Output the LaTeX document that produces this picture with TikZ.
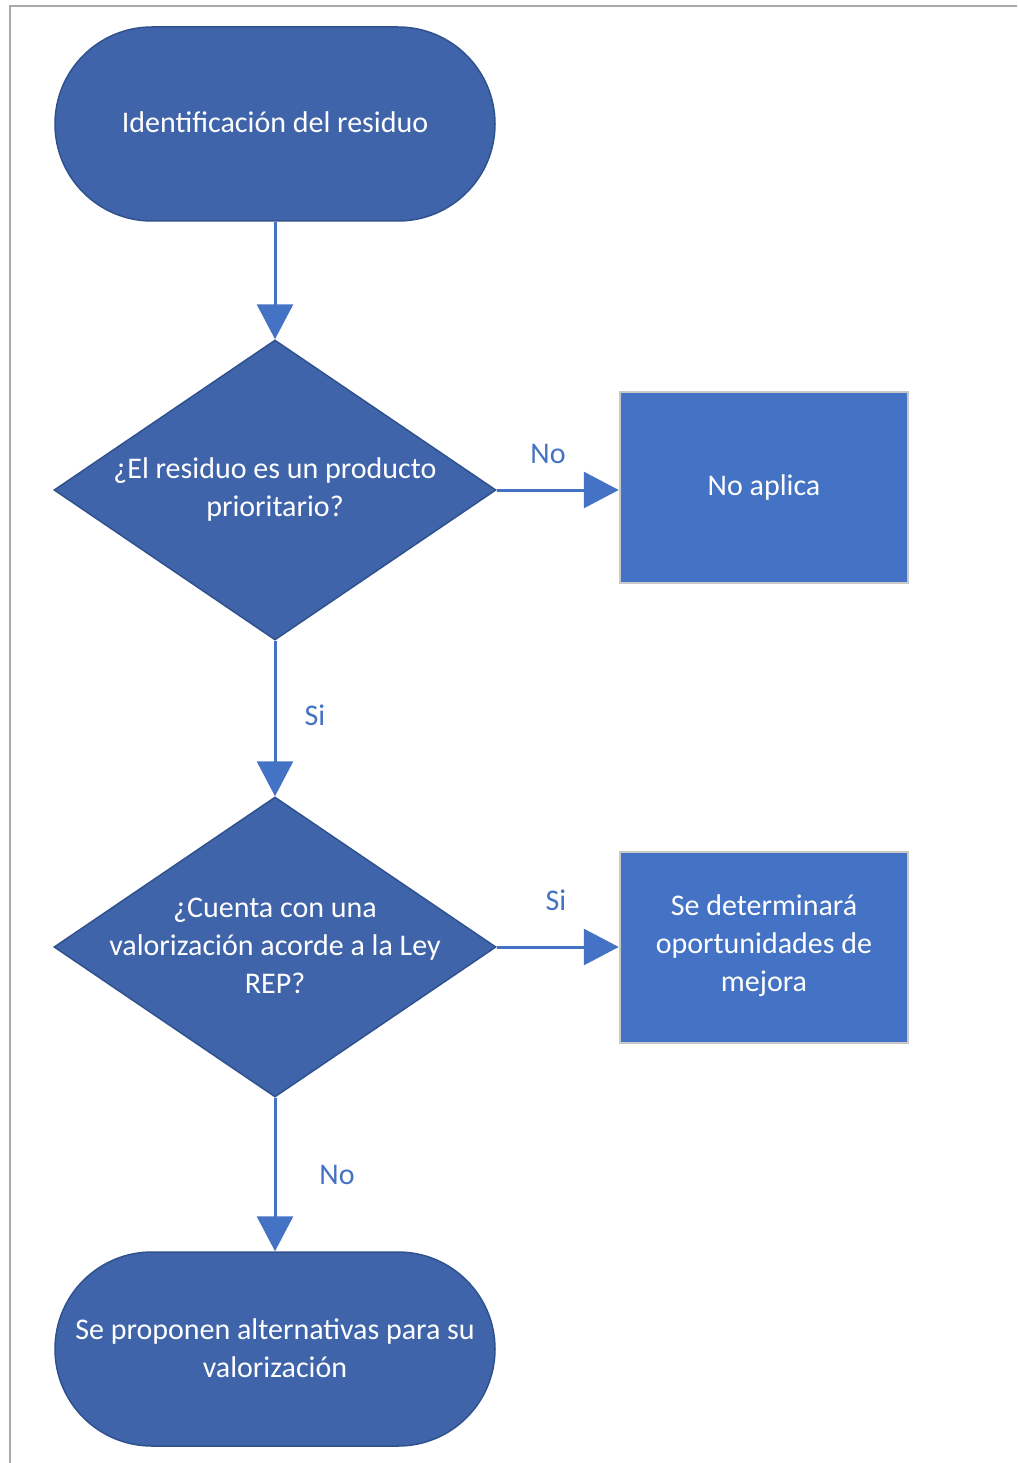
\documentclass[tikz,border=0pt]{standalone}
\usepackage{fontspec}
\setmainfont{Carlito}
\usetikzlibrary{shapes.geometric,arrows.meta}
\definecolor{darkfill}{HTML}{3F64AA}
\definecolor{darkline}{HTML}{2F528F}
\definecolor{boxfill}{HTML}{4472C4}
\definecolor{boxline}{HTML}{C8C8C8}
\definecolor{frameline}{HTML}{AAAAAA}
\tikzset{
  termbox/.style={draw=darkline, line width=1.5pt, fill=darkfill, rectangle, rounded corners=97pt, minimum width=440pt, minimum height=194pt, inner sep=0pt},
  diabox/.style={draw=darkline, line width=1.5pt, fill=darkfill, diamond, minimum width=442pt, minimum height=300pt, inner sep=0pt},
  procbox/.style={draw=boxline, line width=2.5pt, fill=boxfill, rectangle, minimum width=288pt, minimum height=191pt, inner sep=0pt},
  txt/.style={text=white, font=\fontsize{30pt}{38pt}\selectfont, align=center, inner sep=0pt},
  lbl/.style={text=boxfill, font=\fontsize{30pt}{38pt}\selectfont, inner sep=0pt},
  conn/.style={draw=boxfill, line width=3pt, -{Triangle[length=35pt,width=36pt]}}
}
\begin{document}
\begin{tikzpicture}[x=1pt,y=-1pt]
\useasboundingbox (0,0) rectangle (1017,1463);
\fill[white] (0,0) rectangle (1017,1463);
\draw[frameline, line width=2pt] (10,1463) -- (10,6.5) -- (1017,6.5);

\node[termbox] (t1) at (275,124) {};
\node[txt] at (275,122) {Identificación del residuo};

\node[diabox] (d1) at (275,490) {};
\node[txt] at (275,489) {¿El residuo es un producto\\prioritario?};

\node[procbox] (p1) at (764,487.5) {};
\node[txt] at (764,487) {No aplica};

\node[diabox] (d2) at (275,947) {};
\node[txt] at (275,946) {¿Cuenta con una\\valorización acorde a la Ley\\REP?};

\node[procbox] (p2) at (764,947.5) {};
\node[txt] at (764,946) {Se determinará\\oportunidades de\\mejora};

\node[termbox] (t2) at (275,1349) {};
\node[txt] at (275,1348) {Se proponen alternativas para su\\valorización};

\draw[conn] (t1.south) -- (d1.north);
\draw[conn] (d1.east) -- (d1.east -| p1.west);
\draw[conn] (d1.south) -- (d2.north);
\draw[conn] (d2.east) -- (d2.east -| p2.west);
\draw[conn] (d2.south) -- (t2.north);

\node[lbl] (l1) at (548,454) {No};
\node[lbl] (l2) at (315,715) {Si};
\node[lbl] (l3) at (556,900) {Si};
\node[lbl] (l4) at (337,1175) {No};
\end{tikzpicture}
\end{document}
